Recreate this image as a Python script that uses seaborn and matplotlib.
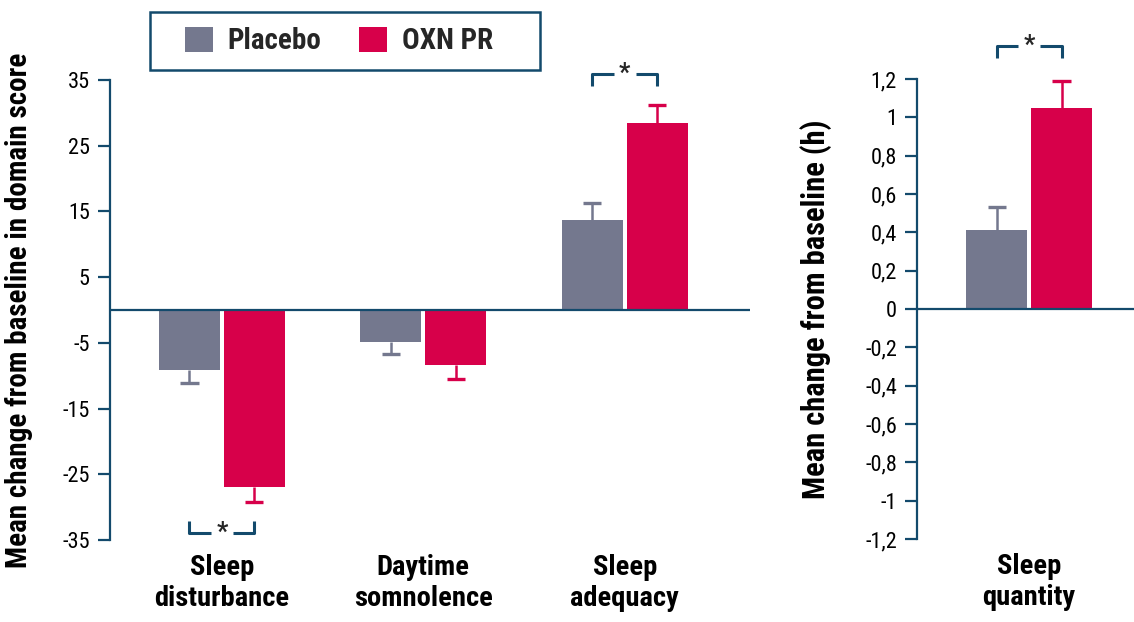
import matplotlib
matplotlib.use("Agg")
import matplotlib.pyplot as plt
from matplotlib.patches import Patch, Rectangle
import numpy as np
import seaborn as sns
import pandas as pd

# datos
domains = ["Sleep\ndisturbance", "Daytime\nsomnolence", "Sleep\nadequacy"]
groups = ["Placebo", "OXN PR"]
placebo_vals = [-9.1, -4.9, 13.7]
oxn_vals = [-27.0, -8.4, 28.5]
placebo_err = [2.0, 1.8, 2.6]
oxn_err = [2.2, 2.1, 2.7]
left_ticks = [35, 25, 15, 5, -5, -15, -25, -35]

quantity_label = ["Sleep\nquantity"]
placebo_qty = [0.41]
oxn_qty = [1.05]
placebo_qty_err = [0.12]
oxn_qty_err = [0.14]
right_ticks = [1.2, 1.0, 0.8, 0.6, 0.4, 0.2, 0.0, -0.2, -0.4, -0.6, -0.8, -1.0, -1.2]
right_labels = ["1,2", "1", "0,8", "0,6", "0,4", "0,2", "0", "-0,2", "-0,4", "-0,6", "-0,8", "-1", "-1,2"]

colors = {"Placebo": "#74788e", "OXN PR": "#d7004a"}
navy = "#134a6c"

sns.set_theme(style="white")
plt.rcParams['font.family'] = ['Roboto Condensed', 'DejaVu Sans']

df_left = pd.DataFrame({
    "domain": domains * 2,
    "group": ["Placebo"] * 3 + ["OXN PR"] * 3,
    "value": placebo_vals + oxn_vals,
})
df_right = pd.DataFrame({
    "domain": quantity_label * 2,
    "group": groups,
    "value": placebo_qty + oxn_qty,
})

fig = plt.figure(figsize=(11.34, 6.22), dpi=100)
ax1 = fig.add_axes([0.097, 0.1318, 0.564, 0.7395])
ax2 = fig.add_axes([0.8087, 0.1334, 0.1913, 0.7395])


def draw_panel(ax, df, errs, ylim, ticks, ticklabels, ylabel, labelsize, labelpad):
    sns.barplot(data=df, x="domain", y="value", hue="group", hue_order=groups,
                palette=colors, saturation=1, width=0.645, gap=0.06, errorbar=None,
                linewidth=0, legend=False, ax=ax)
    ax.set_ylim(*ylim)
    # barras de error solo hacia afuera (tallo + tapa)
    for cont, grp, err in zip(ax.containers, groups, errs):
        for bar, e in zip(cont, err):
            x = bar.get_x() + bar.get_width() / 2
            y = bar.get_y() + bar.get_height()
            end = y + e if bar.get_height() >= 0 else y - e
            ax.vlines(x, y, end, color=colors[grp], lw=1.8, zorder=1)
            ax.hlines(end, x - 0.045, x + 0.045, color=colors[grp], lw=2.4, zorder=1)
    ax.set_yticks(ticks)
    ax.set_yticklabels(ticklabels, fontsize=16)
    ax.axhline(0, color=navy, lw=1.6, zorder=3)
    for s in ["top", "right", "bottom"]:
        ax.spines[s].set_visible(False)
    ax.spines["left"].set_color(navy)
    ax.spines["left"].set_linewidth(1.6)
    ax.tick_params(axis="y", direction="out", length=8.5, width=1.6, color=navy,
                   left=True, pad=6, labelcolor="black")
    ax.tick_params(axis="x", length=0, pad=10)
    for lab in ax.get_xticklabels():
        lab.set_fontsize(20.5)
        lab.set_fontweight("bold")
        lab.set_color("black")
        lab.set_linespacing(1.2)
    ax.set_xlabel("")
    ax.set_ylabel(ylabel, fontsize=labelsize, fontweight="bold", labelpad=labelpad, color="black")


def bracket(ax, i, y, tick, gap_frac=0.33):
    # corchete de significacion entre las dos barras de la categoria i
    x0 = ax.containers[0][i].get_x() + ax.containers[0][i].get_width() / 2
    x1 = ax.containers[1][i].get_x() + ax.containers[1][i].get_width() / 2
    w = x1 - x0
    kw = dict(color=navy, lw=2.2, clip_on=False, solid_capstyle="butt")
    ax.plot([x0, x0, x0 + w * gap_frac], [y + tick, y, y], **kw)
    ax.plot([x1 - w * gap_frac, x1, x1], [y, y, y + tick], **kw)
    ax.text((x0 + x1) / 2, y, "*", ha="center", va="center", fontsize=18,
            fontweight="bold", clip_on=False)


draw_panel(ax1, df_left, [placebo_err, oxn_err], (-35, 35), left_ticks,
           [str(t) for t in left_ticks], "Mean change from baseline in domain score", 21, 21)
ax1.set_xlim(-0.556, 2.62)
bracket(ax1, 0, -33.9, 1.8)
bracket(ax1, 2, 35.9, -1.8)

draw_panel(ax2, df_right, [placebo_qty_err, oxn_qty_err], (-1.2, 1.2), right_ticks,
           right_labels, "Mean change from baseline (h)", 22, 24)
ax2.set_xlim(-0.556, 0.521)
bracket(ax2, 0, 1.374, -0.062)

# leyenda con marco dibujado aparte
fig.patches.append(Rectangle((150 / 1134, 1 - 70 / 622), 390 / 1134, 58 / 622,
                             transform=fig.transFigure, fill=False,
                             edgecolor=navy, lw=1.8))
handles = [Patch(facecolor=colors[g], edgecolor="none") for g in groups]
leg = fig.legend(handles, groups, loc="center", bbox_to_anchor=(339 / 1134, 1 - 41 / 622),
                 ncol=2, frameon=False, handlelength=0.95, handleheight=0.95,
                 handletextpad=0.5, columnspacing=1.3, borderpad=0.2,
                 prop={"size": 21, "weight": "bold"})

fig.savefig("out.png", dpi=100)
